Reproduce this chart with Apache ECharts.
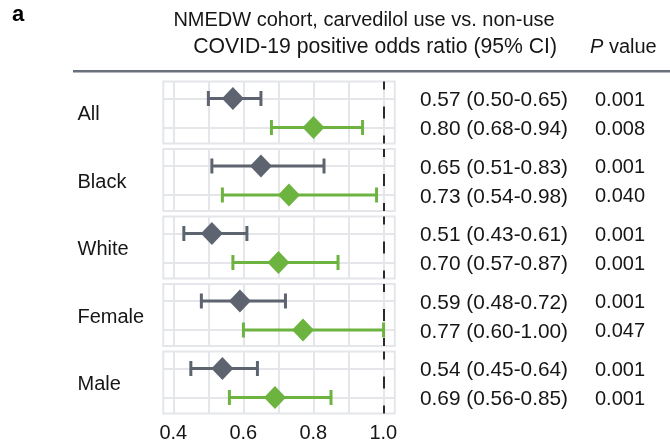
<!DOCTYPE html>
<html><head><meta charset="utf-8">
<script src="https://cdn.jsdelivr.net/npm/echarts@6/dist/echarts.min.js"></script>
<style>html,body{margin:0;padding:0;background:#fff}#c{width:670px;height:446px}</style>
</head><body><div id="c"></div><script>
// ---- data ----
const groups = ['All', 'Black', 'White', 'Female', 'Male'];
// first row of each panel (grey)
const greyEst = [0.57, 0.65, 0.51, 0.59, 0.54];
const greyLo  = [0.50, 0.51, 0.43, 0.48, 0.45];
const greyHi  = [0.65, 0.83, 0.61, 0.72, 0.64];
const greyP   = ['0.001', '0.001', '0.001', '0.001', '0.001'];
// second row of each panel (green)
const greenEst = [0.80, 0.73, 0.70, 0.77, 0.69];
const greenLo  = [0.68, 0.54, 0.57, 0.60, 0.56];
const greenHi  = [0.94, 0.98, 0.87, 1.00, 0.85];
const greenP   = ['0.008', '0.040', '0.001', '0.047', '0.001'];
const gridTicks = [0.4, 0.5, 0.6, 0.7, 0.8, 0.9, 1.0];
const refValue = 1.0;
const titleLine1 = 'NMEDW cohort, carvedilol use vs. non-use';
const titleLine2 = 'COVID-19 positive odds ratio (95% CI)';

// ---- style / layout ----
const GREY = '#5d6470', GREEN = '#6db33f', GRIDC = '#e4e6ea', TXT = '#161616';
const FONT = '"Liberation Sans", Arial, sans-serif';
const panelLeft = 163.3, panelWidth = 231.5, panelTop0 = 81.5, panelStep = 67.5, panelH = 62;
const xMin = 0.3714, xMax = 1.032;
const yMin = -0.586, yMax = 1.552;
const estX = 420, pX = 595, labelX = 77.5, textDy = 1.8;

function fmt(v) { return v.toFixed(2); }

const grids = [], xAxes = [], yAxes = [], series = [];
groups.forEach((g, i) => {
  grids.push({ left: panelLeft, width: panelWidth, top: panelTop0 + panelStep * i, height: panelH,
    show: true, borderColor: GRIDC, borderWidth: 2, backgroundColor: '#fff' });
  xAxes.push({ gridIndex: i, type: 'value', min: xMin, max: xMax, show: false, splitLine: { show: false } });
  yAxes.push({ gridIndex: i, type: 'value', min: yMin, max: yMax, inverse: true, show: false, splitLine: { show: false } });
  // grid lines
  series.push({ type: 'line', xAxisIndex: i, yAxisIndex: i, data: [], z: 1, silent: true,
    markLine: { z: 1, silent: true, symbol: 'none', label: { show: false }, animation: false,
      lineStyle: { color: GRIDC, width: 2, type: 'solid' },
      data: gridTicks.map(v => ({ xAxis: v })).concat([{ yAxis: 0 }, { yAxis: 1 }]) } });
  // reference dashed line
  series.push({ type: 'line', xAxisIndex: i, yAxisIndex: i, data: [], z: 2, silent: true,
    markLine: { z: 2, silent: true, symbol: 'none', label: { show: false }, animation: false,
      lineStyle: { color: '#2a2a2a', width: 2, type: [12, 17], dashOffset: 4 },
      data: [{ xAxis: refValue }] } });
  // error bars
  series.push({ type: 'custom', xAxisIndex: i, yAxisIndex: i, z: 3, silent: true, animation: false,
    data: [[greyLo[i], greyHi[i], 0], [greenLo[i], greenHi[i], 1]],
    encode: { x: [0, 1], y: 2 },
    renderItem: function (params, api) {
      const a = api.coord([api.value(0), api.value(2)]);
      const b = api.coord([api.value(1), api.value(2)]);
      const col = api.value(2) === 0 ? GREY : GREEN;
      const st = { fill: col };
      const lw = 3, h = 15;
      return { type: 'group', children: [
        { type: 'rect', shape: { x: a[0], y: a[1] - lw / 2, width: b[0] - a[0], height: lw }, style: st },
        { type: 'rect', shape: { x: a[0] - lw / 2, y: a[1] - h / 2, width: lw, height: h }, style: st },
        { type: 'rect', shape: { x: b[0] - lw / 2, y: b[1] - h / 2, width: lw, height: h }, style: st }
      ] };
    } });
  // point estimates
  series.push({ type: 'scatter', xAxisIndex: i, yAxisIndex: i, z: 4, silent: true, animation: false,
    symbol: 'diamond', symbolSize: [22, 23],
    data: [{ value: [greyEst[i], 0], itemStyle: { color: GREY, opacity: 1 } },
           { value: [greenEst[i], 1], itemStyle: { color: GREEN, opacity: 1 } }] });
  // text columns and group label
  series.push({ type: 'custom', xAxisIndex: i, yAxisIndex: i, z: 5, silent: true, animation: false, clip: false,
    data: [[greyEst[i], 0], [greenEst[i], 1]],
    renderItem: function (params, api) {
      const row = api.value(1);
      const y = api.coord([xMin, row])[1] + textDy;
      const est = row === 0 ? [greyEst[i], greyLo[i], greyHi[i], greyP[i]] : [greenEst[i], greenLo[i], greenHi[i], greenP[i]];
      const ts = { fill: TXT, fontFamily: FONT, fontSize: 20, verticalAlign: 'middle', align: 'left' };
      const children = [
        { type: 'text', x: estX, y: y, style: Object.assign({}, ts, { fontSize: 20.8, text: fmt(est[0]) + ' (' + fmt(est[1]) + '-' + fmt(est[2]) + ')' }) },
        { type: 'text', x: pX, y: y, style: Object.assign({}, ts, { text: est[3] }) }
      ];
      if (row === 0) {
        const ym = api.coord([xMin, 0.5])[1] + textDy;
        children.push({ type: 'text', x: labelX, y: ym, style: Object.assign({}, ts, { text: groups[i] }) });
      }
      return { type: 'group', children: children };
    } });
});
// tick-label axis
const li = groups.length;
grids.push({ left: 173.3, width: 210, top: 417, height: 1 });
xAxes.push({ gridIndex: li, type: 'value', min: 0.4, max: 1.0, interval: 0.2,
  axisLine: { show: false }, axisTick: { show: false }, splitLine: { show: false },
  axisLabel: { margin: 5, fontSize: 20, color: TXT, fontFamily: FONT, formatter: v => v.toFixed(1) } });
yAxes.push({ gridIndex: li, type: 'value', show: false });
series.push({ type: 'line', xAxisIndex: li, yAxisIndex: li, data: [] });

const chart = echarts.init(document.getElementById('c'), null, { renderer: 'canvas' });
chart.setOption({
  animation: false,
  backgroundColor: '#fff',
  grid: grids, xAxis: xAxes, yAxis: yAxes, series: series,
  graphic: [
    { type: 'text', left: 12, top: 4, style: { text: 'a', fill: '#000', font: 'bold 22px ' + FONT } },
    { type: 'text', x: 364, y: 20, style: { text: titleLine1, fill: TXT, fontFamily: FONT, fontSize: 20, align: 'center', verticalAlign: 'middle' } },
    { type: 'text', x: 557, y: 47.5, style: { text: titleLine2, fill: TXT, fontFamily: FONT, fontSize: 21.2, align: 'right', verticalAlign: 'middle' } },
    { type: 'text', x: 590, y: 47.5, style: { text: '{i|P} value', fill: TXT, fontFamily: FONT, fontSize: 20, align: 'left', verticalAlign: 'middle',
        rich: { i: { fontStyle: 'italic', fontFamily: FONT, fontSize: 20, fill: TXT } } } },
    { type: 'rect', shape: { x: 73, y: 70, width: 597, height: 2.5 }, style: { fill: '#6b717c' } }
  ]
});
</script></body></html>
